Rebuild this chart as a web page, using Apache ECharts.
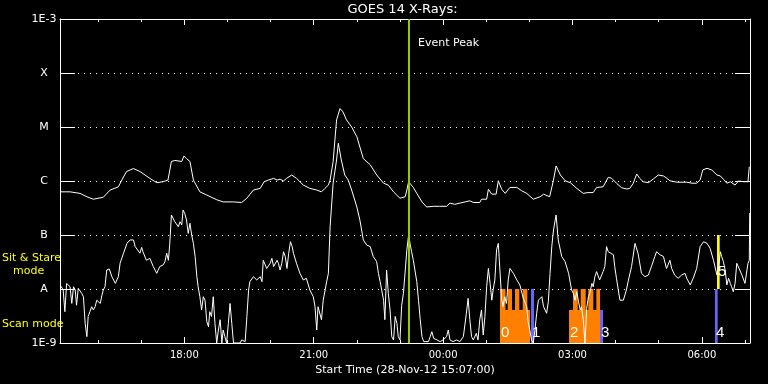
<!DOCTYPE html>
<html><head><meta charset="utf-8">
<script src="https://cdn.jsdelivr.net/npm/echarts@6/dist/echarts.min.js"></script>
<style>html,body{margin:0;padding:0;background:#000;}#c{width:768px;height:384px;}</style>
</head><body><div id="c"></div>
<script>
// Time axis in hours from 28-Nov-12 00:00 (values beyond 24 are the next day)
const tStart = 15 + 7 / 60;
const tEnd = tStart + 16;
const hourTicks = [16,17,18,19,20,21,22,23,24,25,26,27,28,29,30,31];
const hourLabels = [18,21,24,27,30];
const yTickLabels = ['1E-9','A','B','C','M','X','1E-3'];
const xName = 'Start Time (28-Nov-12 15:07:00)';
const chartTitle = 'GOES 14 X-Rays:';

// GOES long channel (1-8 A), W/m^2
const longChannel = [[15.12,6.3e-7],[15.35,6.3e-7],[15.58,5.9e-7],[15.74,5.1e-7],[15.89,4.6e-7],[16.12,5.0e-7],[16.28,6.8e-7],[16.47,7.8e-7],[16.55,1.04e-6],[16.66,1.5e-6],[16.82,1.7e-6],[16.97,1.5e-6],[17.20,1.12e-6],[17.36,9.3e-7],[17.51,9.7e-7],[17.62,1.04e-6],[17.70,2.3e-6],[17.78,2.4e-6],[17.94,2.3e-6],[17.99,2.9e-6],[18.05,2.6e-6],[18.13,2.3e-6],[18.21,1.04e-6],[18.36,6.3e-7],[18.52,5.5e-7],[18.75,4.5e-7],[18.90,4.1e-7],[19.14,4.1e-7],[19.33,4.0e-7],[19.45,4.8e-7],[19.60,6.8e-7],[19.76,7.3e-7],[19.85,9.7e-7],[19.95,1.04e-6],[20.07,1.12e-6],[20.15,1.04e-6],[20.22,1.08e-6],[20.30,1.0e-6],[20.37,1.12e-6],[20.49,1.29e-6],[20.60,1.12e-6],[20.76,8.4e-7],[20.91,7.3e-7],[21.07,6.8e-7],[21.18,6.3e-7],[21.26,7.3e-7],[21.34,8.4e-7],[21.38,1.04e-6],[21.45,2.3e-6],[21.53,1.35e-5],[21.61,2.2e-5],[21.68,1.9e-5],[21.76,1.35e-5],[21.88,1.0e-5],[22.00,6.6e-6],[22.15,2.6e-6],[22.31,2.0e-6],[22.46,1.29e-6],[22.62,9.1e-7],[22.73,8.4e-7],[22.85,6.3e-7],[23.00,4.8e-7],[23.12,5.1e-7],[23.16,6.8e-7],[23.20,9.7e-7],[23.24,9.7e-7],[23.31,7.6e-7],[23.39,5.9e-7],[23.51,4.1e-7],[23.62,3.3e-7],[23.77,3.4e-7],[23.92,3.4e-7],[24.08,3.4e-7],[24.16,3.9e-7],[24.27,3.7e-7],[24.39,3.9e-7],[24.51,4.1e-7],[24.62,4.3e-7],[24.70,4.0e-7],[24.85,4.0e-7],[24.89,4.6e-7],[25.01,4.6e-7],[25.05,7.0e-7],[25.13,5.7e-7],[25.23,5.7e-7],[25.28,1.01e-6],[25.36,7.0e-7],[25.44,5.9e-7],[25.55,7.6e-7],[25.71,7.6e-7],[25.82,6.6e-7],[25.94,5.9e-7],[26.09,4.6e-7],[26.25,5.1e-7],[26.33,5.7e-7],[26.47,5.1e-7],[26.56,1.04e-6],[26.62,1.9e-6],[26.72,1.29e-6],[26.83,1.01e-6],[26.95,9.3e-7],[27.10,7.3e-7],[27.25,5.9e-7],[27.36,6.1e-7],[27.48,6.1e-7],[27.56,7.6e-7],[27.71,7.8e-7],[27.83,1.17e-6],[27.91,1.12e-6],[27.95,1.04e-6],[28.02,9.1e-7],[28.14,7.5e-7],[28.26,7.1e-7],[28.33,7.3e-7],[28.41,9.1e-7],[28.49,1.35e-6],[28.56,1.12e-6],[28.64,9.7e-7],[28.76,9.3e-7],[28.87,1.08e-6],[28.99,1.29e-6],[29.11,1.24e-6],[29.19,1.12e-6],[29.26,1.01e-6],[29.42,9.5e-7],[29.65,9.5e-7],[29.77,9.1e-7],[29.88,9.1e-7],[29.96,1.04e-6],[30.02,1.6e-6],[30.12,1.72e-6],[30.23,1.6e-6],[30.35,1.29e-6],[30.43,1.24e-6],[30.50,1.08e-6],[30.58,9.1e-7],[30.66,9.7e-7],[30.77,8.4e-7],[30.85,1.0e-6],[30.97,9.7e-7],[31.07,9.7e-7],[31.10,1.84e-6]];

// GOES short channel (0.5-4 A), W/m^2
const shortChannel = [[15.12,1.19e-8],[15.16,1.27e-8],[15.19,9.6e-9],[15.23,3.8e-9],[15.27,1.27e-8],[15.31,1.37e-8],[15.35,1.1e-8],[15.39,5.4e-9],[15.43,1.1e-8],[15.47,9.6e-9],[15.50,5.0e-9],[15.54,1.03e-8],[15.58,1.1e-8],[15.62,8.3e-9],[15.66,7.2e-9],[15.70,2.3e-9],[15.74,1.31e-9],[15.77,3.1e-9],[15.81,3.8e-9],[15.85,4.7e-9],[15.89,4.1e-9],[15.93,4.7e-9],[15.97,6.2e-9],[16.05,5.4e-9],[16.09,7.7e-9],[16.12,9.6e-9],[16.16,1.1e-8],[16.20,2.25e-8],[16.26,2.35e-8],[16.32,1.69e-8],[16.40,1.27e-8],[16.47,1.69e-8],[16.51,3.0e-8],[16.59,4.6e-8],[16.67,7.0e-8],[16.74,8.1e-8],[16.82,8.1e-8],[16.86,6.1e-8],[16.90,5.7e-8],[16.97,4.6e-8],[17.01,5.9e-8],[17.04,4.9e-8],[17.12,3.4e-8],[17.20,3.7e-8],[17.28,2.6e-8],[17.36,1.95e-8],[17.43,2.6e-8],[17.51,2.8e-8],[17.55,3.2e-8],[17.59,4.6e-8],[17.63,3.4e-8],[17.66,6.5e-8],[17.70,2.35e-7],[17.78,1.76e-7],[17.82,1.65e-7],[17.86,1.42e-7],[17.90,1.76e-7],[17.94,1.53e-7],[17.97,2.9e-7],[18.01,2.5e-7],[18.05,1.9e-7],[18.09,1.07e-7],[18.13,1.65e-7],[18.17,1.0e-7],[18.21,7.0e-8],[18.25,4.0e-8],[18.29,1.69e-8],[18.32,1.1e-8],[18.36,7.2e-9],[18.40,4.1e-9],[18.44,7.2e-9],[18.48,6.2e-9],[18.52,2.5e-9],[18.56,2.0e-9],[18.59,3.8e-9],[18.63,3.1e-9],[18.67,7.2e-9],[18.71,2.3e-9],[18.75,1.0e-9],[18.79,1.74e-9],[18.83,2.7e-9],[18.87,1.0e-9],[18.90,1.74e-9],[18.94,1.31e-9],[18.98,1.0e-9],[19.02,2.3e-9],[19.06,5.4e-9],[19.10,2.3e-9],[19.14,1.0e-9],[19.29,1.0e-9],[19.33,1.14e-9],[19.41,1.06e-9],[19.45,3.1e-9],[19.49,9.6e-9],[19.52,1.37e-8],[19.60,1.69e-8],[19.68,1.47e-8],[19.76,1.69e-8],[19.80,1.37e-8],[19.83,3.4e-8],[19.87,3.7e-8],[19.91,2.4e-8],[19.95,2.25e-8],[19.99,3.0e-8],[20.03,3.7e-8],[20.07,2.6e-8],[20.11,2.4e-8],[20.15,3.4e-8],[20.18,3.0e-8],[20.22,2.25e-8],[20.26,3.0e-8],[20.30,4.9e-8],[20.34,4.0e-8],[20.38,2.4e-8],[20.42,4.6e-8],[20.46,7.5e-8],[20.50,6.1e-8],[20.53,4.6e-8],[20.60,3.0e-8],[20.68,1.95e-8],[20.76,1.47e-8],[20.83,1.58e-8],[20.91,9.6e-9],[20.99,7.2e-9],[21.03,4.7e-9],[21.07,1.74e-9],[21.10,4.7e-9],[21.14,5.0e-9],[21.18,2.7e-9],[21.22,6.2e-9],[21.30,1.37e-8],[21.34,1.95e-8],[21.38,1.42e-7],[21.45,9.1e-7],[21.53,2.45e-6],[21.57,5.0e-6],[21.61,4.6e-6],[21.64,2.45e-6],[21.72,1.29e-6],[21.80,1.04e-6],[21.88,6.8e-7],[22.00,3.3e-7],[22.07,1.9e-7],[22.15,8.1e-8],[22.23,6.5e-8],[22.31,6.1e-8],[22.38,4.0e-8],[22.46,3.2e-8],[22.50,1.95e-8],[22.54,1.37e-8],[22.58,1.27e-8],[22.62,6.2e-9],[22.65,2.7e-9],[22.69,2.25e-8],[22.73,8.3e-9],[22.77,4.1e-9],[22.81,1.31e-9],[22.85,1.14e-9],[22.89,3.1e-9],[22.93,2.3e-9],[22.96,1.31e-9],[23.00,1.14e-9],[23.04,5.0e-9],[23.08,8.3e-9],[23.12,8.9e-9],[23.16,5.3e-8],[23.20,1.0e-7],[23.24,6.5e-8],[23.27,4.9e-8],[23.31,3.4e-8],[23.39,1.37e-8],[23.43,6.2e-9],[23.47,2.7e-9],[23.51,1.31e-9],[23.55,1.06e-9],[23.66,1.06e-9],[23.70,1.31e-9],[23.74,1.62e-9],[23.78,1.22e-9],[23.86,1.14e-9],[23.93,1.06e-9],[24.00,1.14e-9],[24.08,1.31e-9],[24.12,1.74e-9],[24.16,1.14e-9],[24.23,1.06e-9],[24.31,1.14e-9],[24.39,1.06e-9],[24.47,1.31e-9],[24.54,3.55e-9],[24.58,6.7e-9],[24.62,2.7e-9],[24.66,1.31e-9],[24.70,1.14e-9],[24.77,1.51e-9],[24.81,1.14e-9],[24.85,2.7e-9],[24.89,4.1e-9],[24.93,1.41e-9],[24.97,3.1e-9],[25.01,1.1e-8],[25.05,2.4e-8],[25.09,1.27e-8],[25.13,6.2e-9],[25.16,9.6e-9],[25.20,1.47e-8],[25.24,5.3e-8],[25.28,7.0e-8],[25.32,6.5e-8],[25.36,6.2e-9],[25.39,4.7e-9],[25.43,7.2e-9],[25.47,5.4e-9],[25.51,1.47e-8],[25.55,2.4e-8],[25.63,1.95e-8],[25.71,1.47e-8],[25.78,1.19e-8],[25.86,6.7e-9],[25.94,4.7e-9],[25.97,2.5e-9],[26.01,1.74e-9],[26.05,1.14e-9],[26.09,1.0e-9],[26.13,1.74e-9],[26.17,3.55e-9],[26.21,6.2e-9],[26.29,7.2e-9],[26.33,4.7e-9],[26.40,3.55e-9],[26.44,5.8e-9],[26.48,1.95e-8],[26.52,6.1e-8],[26.56,1.24e-7],[26.62,2.35e-7],[26.67,8.1e-8],[26.75,4.0e-8],[26.83,3.2e-8],[26.91,1.95e-8],[26.98,9.6e-9],[27.02,8.3e-9],[27.06,6.2e-9],[27.10,8.9e-9],[27.14,5.8e-9],[27.18,4.1e-9],[27.21,4.7e-9],[27.25,2.7e-9],[27.29,1.0e-9],[27.33,4.4e-9],[27.37,7.2e-9],[27.41,8.9e-9],[27.45,1.27e-8],[27.48,1.1e-8],[27.52,1.69e-8],[27.56,2.1e-8],[27.63,1.47e-8],[27.71,2.1e-8],[27.75,2.6e-8],[27.79,6.1e-8],[27.83,4.9e-8],[27.87,4.6e-8],[27.95,4.3e-8],[27.98,2.6e-8],[28.02,1.58e-8],[28.10,6.2e-9],[28.18,6.2e-9],[28.25,9.6e-9],[28.29,1.37e-8],[28.33,1.27e-8],[28.37,2.6e-8],[28.45,7.0e-8],[28.49,6.5e-8],[28.52,4.6e-8],[28.60,1.95e-8],[28.68,1.69e-8],[28.76,1.81e-8],[28.83,2.6e-8],[28.91,4.0e-8],[28.95,4.9e-8],[29.03,4.3e-8],[29.11,4.0e-8],[29.18,2.4e-8],[29.26,3.4e-8],[29.30,2.4e-8],[29.37,1.81e-8],[29.45,1.58e-8],[29.53,1.81e-8],[29.57,1.69e-8],[29.61,1.95e-8],[29.65,1.58e-8],[29.73,1.19e-8],[29.76,1.1e-8],[29.80,1.58e-8],[29.88,2.4e-8],[29.96,6.1e-8],[30.04,7.5e-8],[30.12,7.0e-8],[30.19,5.7e-8],[30.27,3.4e-8],[30.35,1.81e-8],[30.38,2.25e-8],[30.43,4.9e-8],[30.46,4.0e-8],[30.50,3.2e-8],[30.54,2.25e-8],[30.58,1.19e-8],[30.62,1.58e-8],[30.66,1.27e-8],[30.69,1.1e-8],[30.73,8.9e-9],[30.77,1.27e-8],[30.81,3.0e-8],[30.85,3.0e-8],[30.93,1.81e-8],[31.00,1.27e-8],[31.07,3.0e-8],[31.10,3.4e-8],[31.11,2.55e-7]];

// Observing-mode bars: [start hour, end hour, low flux, high flux]
const scanBars = [[25.32,26.016,1e-9,4.1e-9],[25.32,25.447,1e-9,1e-8],[25.498,25.598,1e-9,1e-8],[25.667,25.767,1e-9,1e-8],[25.846,25.953,1e-9,1e-8],
                  [26.92,27.638,1e-9,4.1e-9],[27.013,27.122,1e-9,1e-8],[27.191,27.307,1e-9,1e-8],[27.367,27.483,1e-9,1e-8],[27.553,27.638,1e-9,1e-8]];
const markerBars = [[26.039,26.108,1e-9,1e-8],[27.638,27.708,1e-9,4.1e-9],[30.305,30.367,1e-9,1e-8]];
const stareBars = [[30.352,30.414,1e-8,1e-7]];
const markerTexts = ['0','1','2','3','4','5'];
const markerTimes = [25.343,26.062,26.943,27.662,30.328,30.375];
const markerFlux = [1.53e-9,1.53e-9,1.53e-9,1.53e-9,1.53e-9,2.06e-8];
const eventTimes = [23.209];
const eventNames = ['Event Peak'];

const FONT = '"DejaVu Sans", sans-serif';
const chart = echarts.init(document.getElementById('c'), null, {renderer:'canvas', width:768, height:384});

function hourFmt(v){ const h = Math.round(v) % 24; return (h < 10 ? '0' : '') + h + ':00'; }
function xAx(pos, len, ticks, extra){
  return Object.assign({type:'value', position:pos, min:tStart, max:tEnd,
    axisLine:{show:false}, splitLine:{show:false},
    axisTick:{show:true, inside:true, length:len, customValues:ticks, lineStyle:{color:'#fff', width:1}},
    axisLabel:{show:false}}, extra || {});
}
function barSeries(bars, color){
  return {type:'custom', coordinateSystem:'cartesian2d', xAxisIndex:0, yAxisIndex:0, clip:true, z:1, silent:true,
    encode:{x:[0,1], y:[2,3]}, data:bars,
    renderItem:(params, api) => {
      const a = api.coord([api.value(0), api.value(3)]);
      const b = api.coord([api.value(1), api.value(2)]);
      return {type:'rect', shape:{x:a[0], y:a[1], width:b[0]-a[0], height:b[1]-a[1]}, style:{fill:color}};
    }};
}

const option = {
  backgroundColor:'#000',
  animation:false,
  grid:{left:60, right:18, top:19, bottom:41, show:false, containLabel:false},
  xAxis:[
    xAx('bottom', 3, hourTicks, {
      axisLine:{show:true, onZero:false, lineStyle:{color:'#fff', width:1}},
      axisLabel:{show:true, customValues:hourLabels, formatter:hourFmt, color:'#fff', fontSize:10, fontFamily:FONT, margin:7},
      name:xName, nameLocation:'middle', nameGap:18, nameTextStyle:{color:'#fff', fontSize:11, fontFamily:FONT}
    }),
    xAx('bottom', 6, hourLabels),
    xAx('top', 3, hourTicks, {axisLine:{show:true, onZero:false, lineStyle:{color:'#fff', width:1}}}),
    xAx('top', 6, hourLabels)
  ],
  yAxis:[
    {type:'log', logBase:10, min:1e-9, max:1e-3, position:'left',
     axisLine:{show:true, onZero:false, lineStyle:{color:'#fff', width:1}},
     axisTick:{show:true, inside:true, length:15, lineStyle:{color:'#fff', width:1}},
     axisLabel:{show:true, color:'#fff', fontSize:11, fontFamily:FONT, align:'center', margin:16,
       formatter:(v) => yTickLabels[Math.round(Math.log10(v)) + 9] || ''},
     splitLine:{show:true, lineStyle:{color:'#fff', width:1, type:[1,5]}}},
    {type:'log', logBase:10, min:1e-9, max:1e-3, position:'right',
     axisLine:{show:true, onZero:false, lineStyle:{color:'#fff', width:1}},
     axisTick:{show:true, inside:true, length:15, lineStyle:{color:'#fff', width:1}},
     axisLabel:{show:false}, splitLine:{show:false}}
  ],
  graphic:[
    {type:'text', x:402.5, y:9.5, silent:true, style:{text:chartTitle, fill:'#fff', font:'13px ' + FONT, textAlign:'center', textVerticalAlign:'middle', align:'center', verticalAlign:'middle'}},
    {type:'text', x:2, y:258, silent:true, style:{text:'Sit & Stare', fill:'#ffff00', font:'11px ' + FONT, textAlign:'left', textVerticalAlign:'middle', align:'left', verticalAlign:'middle'}},
    {type:'text', x:13, y:271, silent:true, style:{text:'mode', fill:'#ffff00', font:'11px ' + FONT, textAlign:'left', textVerticalAlign:'middle', align:'left', verticalAlign:'middle'}},
    {type:'text', x:2, y:324, silent:true, style:{text:'Scan mode', fill:'#ffff00', font:'11px ' + FONT, textAlign:'left', textVerticalAlign:'middle', align:'left', verticalAlign:'middle'}}
  ],
  series:[
    barSeries(scanBars, '#ff8000'),
    barSeries(markerBars, '#6464ff'),
    barSeries(stareBars, '#ffff00'),
    {type:'line', name:'long', data:longChannel, xAxisIndex:0, yAxisIndex:0, showSymbol:false, symbol:'none', clip:true, z:2, silent:true,
     lineStyle:{color:'#fff', width:1}},
    {type:'line', name:'short', data:shortChannel, xAxisIndex:0, yAxisIndex:0, showSymbol:false, symbol:'none', clip:true, z:2, silent:true,
     lineStyle:{color:'#fff', width:1}},
    {type:'custom', coordinateSystem:'cartesian2d', xAxisIndex:0, yAxisIndex:0, z:3, silent:true, clip:false,
     encode:{x:0}, data:eventTimes.map(t => [t]),
     renderItem:(params, api) => {
       const top = api.coord([api.value(0), 1e-3]);
       const bot = api.coord([api.value(0), 1e-9]);
       return {type:'group', children:[
         {type:'line', shape:{x1:top[0], y1:top[1], x2:bot[0], y2:bot[1]}, style:{stroke:'#99cc00', lineWidth:2}},
         {type:'text', x:top[0] + 9, y:top[1] + 24, style:{text:eventNames[params.dataIndex], fill:'#fff', font:'11px ' + FONT, textAlign:'left', textVerticalAlign:'middle', align:'left', verticalAlign:'middle'}}
       ]};
     }},
    {type:'custom', coordinateSystem:'cartesian2d', xAxisIndex:0, yAxisIndex:0, z:4, silent:true, clip:false,
     encode:{x:0, y:1}, data:markerTimes.map((t, i) => [t, markerFlux[i]]),
     renderItem:(params, api) => {
       const p = api.coord([api.value(0), api.value(1)]);
       return {type:'text', x:p[0], y:p[1], style:{text:markerTexts[params.dataIndex], fill:'#fff', font:'15px "Liberation Sans", sans-serif', textAlign:'left', textVerticalAlign:'middle', align:'left', verticalAlign:'middle'}};
     }}
  ]
};
chart.setOption(option);
</script>
</body></html>
